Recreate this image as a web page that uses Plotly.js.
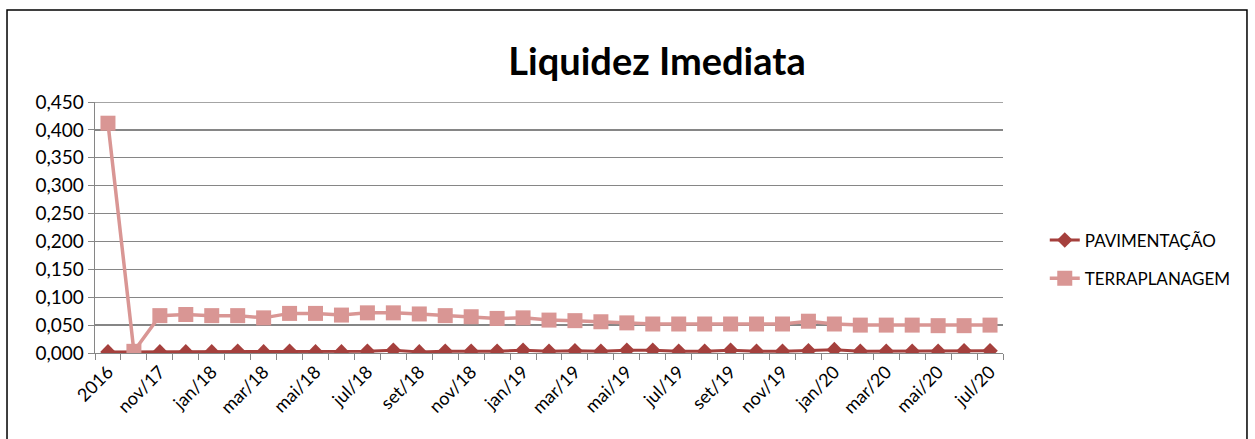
<!DOCTYPE html>
<html>
<head>
<meta charset="utf-8">
<script src="https://cdn.plot.ly/plotly-3.0.1.min.js"></script>
<style>
html,body{margin:0;padding:0;background:#fff;}
#chart{width:1255px;height:439px;}
</style>
</head>
<body>
<div id="chart"></div>
<script>
const categories = ['2016','out/17','nov/17','dez/17','jan/18','fev/18','mar/18','abr/18','mai/18','jun/18','jul/18','ago/18','set/18','out/18','nov/18','dez/18','jan/19','fev/19','mar/19','abr/19','mai/19','jun/19','jul/19','ago/19','set/19','out/19','nov/19','dez/19','jan/20','fev/20','mar/20','abr/20','mai/20','jun/20','jul/20'];

const tickLabels = ['2016','','nov/17','','jan/18','','mar/18','','mai/18','','jul/18','','set/18','','nov/18','','jan/19','','mar/19','','mai/19','','jul/19','','set/19','','nov/19','','jan/20','','mar/20','','mai/20','','jul/20'];

const pavimentacao = [0.002,0.002,0.002,0.002,0.002,0.003,0.002,0.003,0.002,0.002,0.003,0.005,0.002,0.003,0.003,0.003,0.005,0.003,0.004,0.003,0.005,0.005,0.003,0.003,0.005,0.003,0.003,0.004,0.006,0.003,0.003,0.003,0.003,0.004,0.004];

const terraplanagem = [0.412,0.003,0.067,0.069,0.067,0.067,0.063,0.071,0.071,0.068,0.072,0.072,0.070,0.067,0.065,0.062,0.063,0.059,0.058,0.056,0.054,0.052,0.052,0.052,0.052,0.052,0.052,0.057,0.052,0.050,0.050,0.050,0.049,0.049,0.050];

const yTicks = [0,0.05,0.1,0.15,0.2,0.25,0.3,0.35,0.4,0.45];

const FONT = 'Lato, "Open Sans", sans-serif';

const traces = [
  {
    x: categories, y: pavimentacao, name: 'PAVIMENTAÇÃO', type: 'scatter', mode: 'lines+markers',
    legendgroup: 'a',
    line: {color: '#A5403D', width: 3},
    marker: {symbol: 'diamond', size: 12, color: '#A5403D'}
  },
  {
    x: categories, y: terraplanagem, name: 'TERRAPLANAGEM', type: 'scatter', mode: 'lines+markers',
    legendgroup: 'b',
    line: {color: '#D99694', width: 3.5},
    marker: {symbol: 'square', size: 15, color: '#D99694'}
  }
];

const yMax = yTicks[yTicks.length - 1];

const layout = {
  width: 1255, height: 439,
  margin: {l: 95, r: 252, t: 102, b: 86},
  paper_bgcolor: '#fff', plot_bgcolor: '#fff',
  separators: ',.',
  font: {family: FONT, color: '#000'},
  title: {
    text: '<b>Liquidez Imediata</b>',
    font: {family: FONT, size: 38, color: '#000'},
    x: 0.5235, xref: 'container', xanchor: 'center',
    y: 0.86, yref: 'container', yanchor: 'middle'
  },
  showlegend: true,
  legend: {
    x: 1.046, xanchor: 'left', y: 0.52, yanchor: 'top',
    font: {family: FONT, size: 17, color: '#000'},
    traceorder: 'grouped', tracegroupgap: 13,
    bgcolor: 'rgba(0,0,0,0)'
  },
  xaxis: {
    type: 'category',
    range: [-0.5, categories.length - 0.5],
    autorange: false,
    tickmode: 'array', tickvals: categories, ticktext: tickLabels,
    tickson: 'boundaries',
    tickangle: -45,
    ticks: 'outside', ticklen: 6, tickcolor: '#868686', tickwidth: 1,
    showline: true, linecolor: '#868686', linewidth: 1.3,
    showgrid: false, zeroline: false,
    tickfont: {family: FONT, size: 18, color: '#000'}
  },
  yaxis: {
    range: [0, yMax],
    autorange: false,
    tickmode: 'array', tickvals: yTicks,
    tickformat: '.3f',
    ticks: 'outside', ticklen: 6, tickcolor: '#868686', tickwidth: 1,
    showline: true, linecolor: '#868686', linewidth: 1.3,
    showgrid: true, gridcolor: '#868686', gridwidth: 1.3,
    zeroline: false,
    tickfont: {family: FONT, size: 19, color: '#000'}
  },
  shapes: [
    {
      type: 'rect', xref: 'paper', yref: 'paper',
      x0: -0.0969, x1: 1.2687, y0: -0.37, y1: 1.3665,
      line: {color: '#000', width: 1.5}, fillcolor: 'rgba(0,0,0,0)', layer: 'below'
    },
    {
      type: 'line', xref: 'paper', yref: 'y',
      x0: 0, x1: 1, y0: yMax, y1: yMax,
      line: {color: '#868686', width: 1.3}, layer: 'below'
    }
  ]
};

Plotly.newPlot('chart', traces, layout, {displayModeBar: false, staticPlot: true});
</script>
</body>
</html>
